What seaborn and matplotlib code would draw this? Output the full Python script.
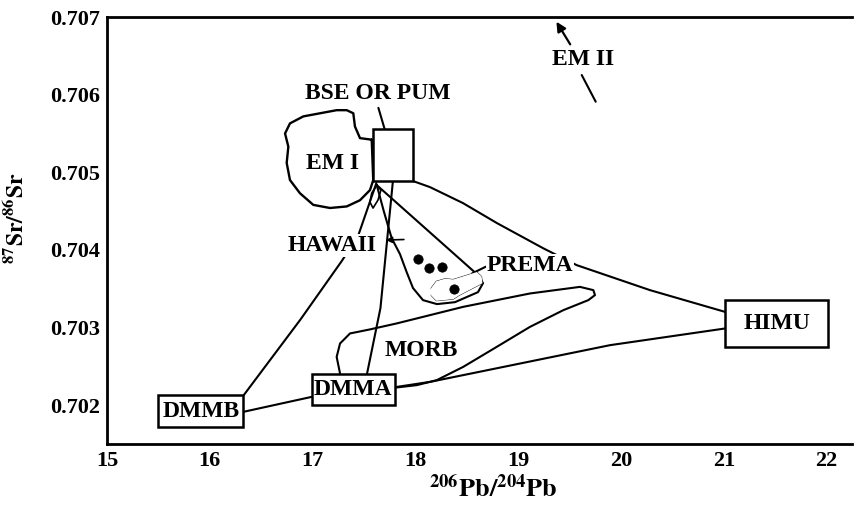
import numpy as np
import pandas as pd
import seaborn as sns
import matplotlib.pyplot as plt
from matplotlib.patches import Rectangle

# outlines and reservoirs: x = 206Pb/204Pb, y = 87Sr/86Sr
em1_x = [17.575, 17.461, 17.412, 17.396, 17.332, 17.234, 17.072, 16.910, 16.780, 16.732,
         16.764, 16.748, 16.780, 16.877, 17.007, 17.169, 17.332, 17.461, 17.558, 17.590]
em1_y = [0.70542, 0.70544, 0.70559, 0.70576, 0.70580, 0.70580, 0.70576, 0.70572, 0.70563, 0.70550,
         0.70533, 0.70512, 0.70490, 0.70473, 0.70458, 0.70454, 0.70456, 0.70464, 0.70477, 0.70490]

morb_x = [17.267, 17.234, 17.267, 17.364, 17.558, 17.818, 18.466, 19.115, 19.601, 19.731,
          19.747, 19.682, 19.439, 19.115, 18.791, 18.466, 18.207, 18.013, 17.818]
morb_y = [0.702408, 0.702622, 0.702795, 0.702924, 0.702976, 0.703053, 0.703267, 0.703439, 0.703524, 0.703482,
          0.703418, 0.703353, 0.703224, 0.703009, 0.702751, 0.702494, 0.702322, 0.702258, 0.702228]

hawaii_x = [17.624, 17.695, 17.769, 17.850, 17.915, 17.977, 18.074, 18.210, 18.385, 18.609, 18.658, 18.609]
hawaii_y = [0.704835, 0.704487, 0.704152, 0.703946, 0.703714, 0.703508, 0.703353, 0.703302, 0.703327,
            0.703456, 0.703572, 0.703675]

loop_x = [17.624, 17.575, 17.558, 17.588, 17.636, 17.665]
loop_y = [0.70483, 0.704732, 0.704616, 0.704539, 0.704642, 0.704771]

prema_x = [18.159, 18.207, 18.288, 18.369, 18.596, 18.638, 18.645, 18.417, 18.369, 18.207, 18.159]
prema_y = [0.703504, 0.703589, 0.70362, 0.703611, 0.703705, 0.703653, 0.703576, 0.703418, 0.703375,
           0.703353, 0.703418]
prema_div_x = [18.369, 18.385]
prema_div_y = [0.703611, 0.703395]

samples_x = [18.028, 18.135, 18.256, 18.375]
samples_y = [0.703878, 0.703762, 0.703782, 0.703495]

# mixing lines between reservoirs
mix_lines = {
    "bse_dmmb": ([17.62, 17.44, 17.28, 16.88, 16.33],
                 [0.70486, 0.70417, 0.70385, 0.70310, 0.702129]),
    "bse_dmma": ([17.78, 17.66, 17.53], [0.70487, 0.70325, 0.702408]),
    "bse_himu": ([17.977, 18.142, 18.463, 18.794, 19.241, 19.569, 20.282, 21.012],
                 [0.704887, 0.704809, 0.704603, 0.704345, 0.704023, 0.703804, 0.703482, 0.703202]),
    "himu_dmma": ([17.802, 18.142, 19.893, 21.012], [0.702232, 0.7023, 0.702773, 0.702988]),
    "dmmb_dmma": ([16.326, 16.991], [0.701914, 0.702107]),
    "prema_lead": ([18.551, 18.687], [0.703697, 0.703785]),
    "bse_lead": ([17.64, 17.70], [0.70583, 0.70556]),
    "em2_tail": ([19.618, 19.754], [0.706253, 0.705909]),
}

box_names = ["BSE", "HIMU", "DMMA", "DMMB"]
box_x0 = [17.59, 21.012, 16.991, 15.499]
box_x1 = [17.98, 22.014, 17.802, 16.326]
box_y0 = [0.70489, 0.702751, 0.702, 0.70172]
box_y1 = [0.70556, 0.703353, 0.702408, 0.702129]

label_text = ["BSE OR PUM", "EM I", "HAWAII", "PREMA", "MORB", "HIMU", "DMMA", "DMMB", "EM II"]
label_x = [17.63, 17.19, 17.186, 19.115, 18.061, 21.517, 17.396, 15.912, 19.63]
label_y = [0.70601, 0.70511, 0.704055, 0.703798, 0.702702, 0.703057, 0.702206, 0.701925, 0.706459]

x_ticks = [15, 16, 17, 18, 19, 20, 21, 22]
y_ticks = [0.702, 0.703, 0.704, 0.705, 0.706, 0.707]

sns.set_theme(style="white")
plt.rcParams["font.family"] = ["Liberation Serif", "DejaVu Serif"]
plt.rcParams["font.weight"] = "bold"
plt.rcParams["mathtext.fontset"] = "stix"
plt.rcParams["text.color"] = "black"

fig = plt.figure(figsize=(8.56, 5.05), dpi=100)
ax = fig.add_axes([0.125, 0.1208, 0.8703, 0.8455])

def outline(xs, ys, closed=False, lw=1.3):
    xs, ys = list(xs), list(ys)
    if closed:
        xs, ys = xs + xs[:1], ys + ys[:1]
    df = pd.DataFrame({"x": xs, "y": ys})
    sns.lineplot(data=df, x="x", y="y", sort=False, estimator=None, color="black",
                 lw=lw, ax=ax)

outline(em1_x, em1_y, closed=True, lw=1.7)
outline(morb_x, morb_y, lw=1.5)
outline(hawaii_x, hawaii_y, closed=True, lw=1.5)
outline(loop_x, loop_y, closed=True, lw=1.2)
for xs, ys in mix_lines.values():
    outline(xs, ys, lw=1.5)

# PREMA field
ax.fill(prema_x, prema_y, color="white", zorder=3)
outline(prema_x, prema_y, lw=1.6)
outline(prema_div_x, prema_div_y, lw=1.2)
sns.scatterplot(x=samples_x, y=samples_y, color="black", s=45, edgecolor="black", ax=ax, zorder=4)

for x0, x1, y0, y1 in zip(box_x0, box_x1, box_y0, box_y1):
    ax.add_patch(Rectangle((x0, y0), x1 - x0, y1 - y0, facecolor="white",
                           edgecolor="black", lw=1.8, zorder=4))

for t, x, y in zip(label_text, label_x, label_y):
    bb = dict(facecolor="white", edgecolor="none", pad=0.5) if t in ("HAWAII", "PREMA") else None
    ax.text(x, y, t, ha="center", va="center", fontsize=17, fontweight="bold",
            color="black", zorder=5, bbox=bb)

# HAWAII pointer and EM II arrow
ax.annotate("", xy=(17.685, 0.704126), xytext=(17.915, 0.704135),
            arrowprops=dict(arrowstyle="-|>", color="black", lw=1.2, mutation_scale=9))
ax.annotate("", xy=(19.358, 0.70697), xytext=(19.52, 0.706617),
            arrowprops=dict(arrowstyle="-|>", color="black", lw=1.6, mutation_scale=14))

ax.set_xlim(15, 22.247)
ax.set_ylim(0.7015, 0.707)
ax.set_xticks(x_ticks)
ax.set_yticks(y_ticks)
ax.set_yticklabels([f"{v:.3f}" for v in y_ticks])
ax.tick_params(direction="in", length=5, width=1.5, labelsize=16, pad=5,
               colors="black", labelcolor="black")
for lab in ax.get_xticklabels() + ax.get_yticklabels():
    lab.set_fontweight("bold")

for side in ("left", "top", "bottom"):
    ax.spines[side].set_linewidth(2.0)
    ax.spines[side].set_color("black")
ax.spines["right"].set_visible(False)

ax.set_xlabel("")
ax.set_ylabel("")
fig.text(493 / 856, 1 - 488 / 505, r"$\mathbf{^{206}Pb/^{204}Pb}$", ha="center", va="center",
         fontsize=19, color="black")
fig.text(17 / 856, 1 - 218 / 505, r"$\mathbf{^{87}Sr/^{86}Sr}$", ha="center", va="center",
         fontsize=17, rotation=90, color="black")

fig.savefig("out.png", dpi=100)
